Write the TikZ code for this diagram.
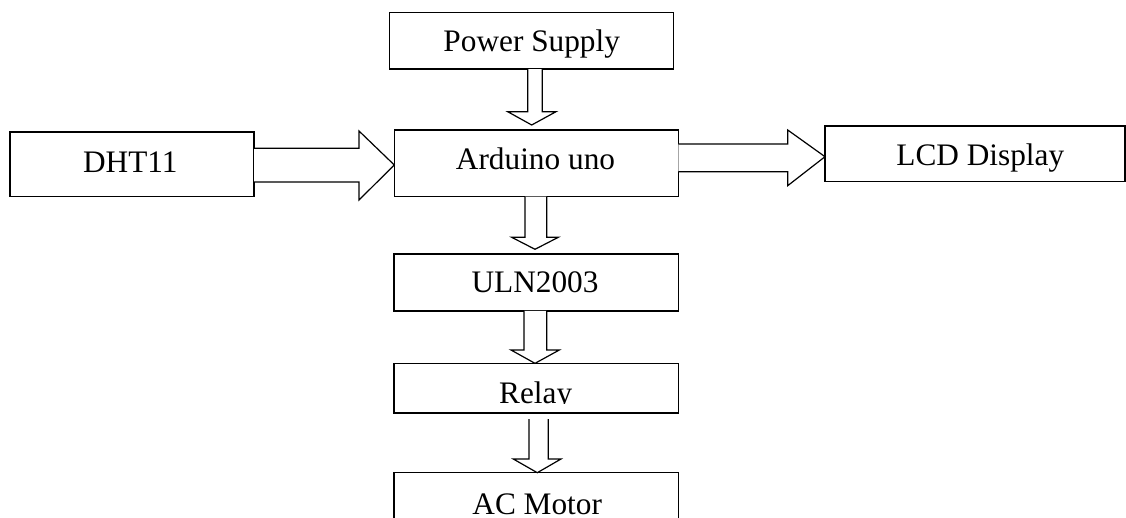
\documentclass[tikz,border=0pt]{standalone}
\usepackage{fontspec}
\setmainfont{Liberation Serif}
\begin{document}
\begin{tikzpicture}[x=1pt,y=-1pt,
  box/.style={draw, line width=1.2pt, rectangle, inner sep=0pt, outer sep=0pt},
  lbl/.style={anchor=base, inner sep=0pt, font=\fontsize{31.3}{38}\selectfont},
  barrow/.style={draw, line width=1.2pt, line join=miter, fill=white}]
\useasboundingbox (0,0) rectangle (1126,518);

% boxes
\node[box, minimum width=284pt, minimum height=56.7pt] (pwr) at (531.7,40.7) {};
\node[box, minimum width=284pt, minimum height=66.7pt] (ard) at (536.3,163.3) {};
\node[box, minimum width=244pt, minimum height=64.7pt] (dht) at (132,164.3) {};
\node[box, minimum width=300pt, minimum height=55.7pt] (lcd) at (975,153.8) {};
\node[box, minimum width=284.3pt, minimum height=57pt] (uln) at (536.2,282.5) {};
\node[box, minimum width=284.3pt, minimum height=49.7pt] (rel) at (536.2,388.2) {};
\node[box, minimum width=284.3pt, minimum height=87.4pt] (acm) at (536.2,516.4) {};

% free ends
\coordinate (ptip) at (531.7,125);
\coordinate (utip) at (535,249.3);

% block arrows
\draw[barrow] (dht.east |- 0,148.3) -- (359,148.3) -- (359,131) -- (ard.west |- 0,165)
  -- (359,200) -- (359,182) -- (dht.east |- 0,182);
\draw[barrow] (ard.east |- 0,144) -- (787.7,144) -- (787.7,130) -- (lcd.west |- 0,156.7)
  -- (787.7,185.7) -- (787.7,171.7) -- (ard.east |- 0,171.7);
\draw[barrow] (pwr.south -| 527.7,0) -- (527.7,111.7) -- (507.7,111.7) -- (ptip)
  -- (556,111.7) -- (542.3,111.7) -- (pwr.south -| 542.3,0);
\draw[barrow] (ard.south -| 525,0) -- (525,237.3) -- (511.7,237.3) -- (utip)
  -- (558.3,237.3) -- (546.7,237.3) -- (ard.south -| 546.7,0);
\draw[barrow] (uln.south -| 524,0) -- (524,350) -- (511,350) -- (rel.north -| 535,0)
  -- (559.3,350) -- (546.7,350) -- (uln.south -| 546.7,0);
\coordinate (rstart) at (538.6,419);
\draw[barrow] (rstart -| 529,0) -- (529,459) -- (513.3,459) -- (acm.north -| 537.3,0)
  -- (561,459) -- (548.3,459) -- (rstart -| 548.3,0);

% labels
\node[lbl] (tdht) at (130.3,172.3) {DHT11};
\node[lbl] (tpwr) at (531.7,51.7) {Power Supply};
\node[lbl] (tard) at (535.5,170) {Arduino uno};
\node[lbl] (tlcd) at (980.3,165.7) {LCD Display};
\node[lbl] (tuln) at (535,292.3) {ULN2003};
\begin{scope}
  \clip (394,363.3) rectangle (678.3,403.8);
  \node[lbl] (trel) at (535.7,403.3) {Relay};
\end{scope}
\node[lbl] (tacm) at (537.2,514.3) {AC Motor};
\end{tikzpicture}
\end{document}
